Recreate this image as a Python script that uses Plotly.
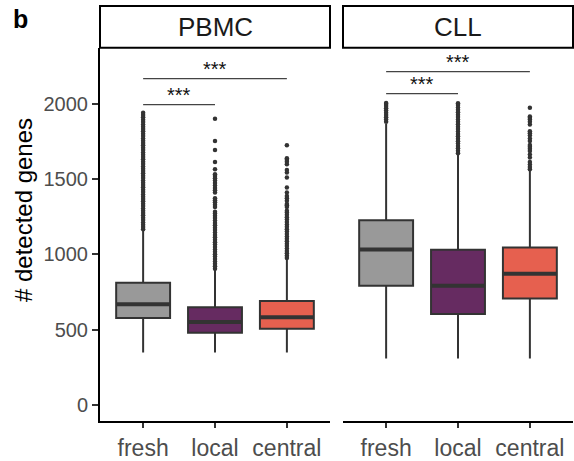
import plotly.graph_objects as go

# ---- data ---------------------------------------------------------------
categories = ["fresh", "local", "central"]
panels = ["PBMC", "CLL"]
fill_colors = ["#999999", "#662B61", "#E6604F"]

# box statistics per panel: [fresh, local, central]
pbmc_q1 = [578, 479, 505]
pbmc_median = [668, 551, 582]
pbmc_q3 = [811, 648, 690]
pbmc_lower = [348, 348, 348]
pbmc_upper = [1157, 900, 968]

cll_q1 = [792, 604, 706]
cll_median = [1032, 792, 871]
cll_q3 = [1226, 1030, 1045]
cll_lower = [309, 309, 309]
cll_upper = [1866, 1665, 1554]

# outlying cells (detected genes)
pbmc_fresh_out = [1166, 1181, 1197, 1212, 1228, 1243, 1259, 1274, 1290, 1305, 1321,
                  1336, 1352, 1367, 1383, 1398, 1414, 1429, 1445, 1460, 1476, 1491,
                  1507, 1522, 1538, 1553, 1569, 1584, 1600, 1615, 1631, 1646, 1662,
                  1677, 1693, 1708, 1724, 1739, 1755, 1770, 1786, 1801, 1817, 1832,
                  1848, 1863, 1879, 1894, 1910, 1925, 1940]
pbmc_local_out = [905, 921, 937, 953, 969, 985, 1001, 1017, 1033, 1049, 1065, 1081,
                  1097, 1113, 1129, 1145, 1161, 1177, 1193, 1209, 1225, 1241, 1257,
                  1272, 1283, 1314, 1330, 1346, 1360, 1373, 1411, 1425, 1440, 1458,
                  1474, 1490, 1505, 1520, 1532, 1565, 1614, 1693, 1753, 1900]
pbmc_central_out = [975, 991, 1007, 1023, 1039, 1055, 1071, 1087, 1103, 1119, 1135,
                    1151, 1167, 1183, 1199, 1215, 1231, 1247, 1263, 1278, 1290, 1314,
                    1326, 1334, 1356, 1372, 1387, 1411, 1444, 1510, 1543, 1560, 1599,
                    1615, 1628, 1638, 1724]
cll_fresh_out = [1880, 1895, 1910, 1925, 1940, 1955, 1970, 1985, 1998, 2006]
cll_local_out = [1672, 1688, 1704, 1720, 1736, 1752, 1768, 1784, 1800, 1816, 1832,
                 1848, 1864, 1880, 1896, 1912, 1928, 1944, 1960, 1976, 1992, 2004]
cll_central_out = [1566, 1580, 1596, 1614, 1643, 1664, 1687, 1702, 1714, 1727, 1753,
                   1770, 1790, 1804, 1817, 1863, 1880, 1896, 1908, 1916, 1973]

# significance brackets: (from category index, to category index, height)
pbmc_brackets = [(1, 2, 1995), (1, 3, 2167)]
cll_brackets = [(1, 2, 2068), (1, 3, 2214)]
sig_label = "***"

y_ticks = [0, 500, 1000, 1500, 2000]

# ---- figure -------------------------------------------------------------
FONT = "Liberation Sans, Arial, Helvetica, sans-serif"
LINE = "#333333"
BOX_W = 0.75

panel_stats = [
    (pbmc_q1, pbmc_median, pbmc_q3, pbmc_lower, pbmc_upper,
     [pbmc_fresh_out, pbmc_local_out, pbmc_central_out], pbmc_brackets),
    (cll_q1, cll_median, cll_q3, cll_lower, cll_upper,
     [cll_fresh_out, cll_local_out, cll_central_out], cll_brackets),
]

fig = go.Figure()
for p, (q1, med, q3, lo, hi, outs, brackets) in enumerate(panel_stats):
    xa = "x" if p == 0 else "x2"
    ya = "y" if p == 0 else "y2"
    for i, cat in enumerate(categories):
        pos = i + 1
        # outliers
        fig.add_trace(go.Scatter(
            x=[pos] * len(outs[i]), y=outs[i], mode="markers",
            marker=dict(size=4.5, color=LINE), xaxis=xa, yaxis=ya,
            showlegend=False, hoverinfo="y"))
        fig.add_trace(go.Box(
            x=[pos], q1=[q1[i]], median=[med[i]], q3=[q3[i]],
            lowerfence=[lo[i]], upperfence=[hi[i]],
            width=BOX_W, whiskerwidth=0, boxpoints=False,
            fillcolor=fill_colors[i], line=dict(color=LINE, width=2),
            name=cat, xaxis=xa, yaxis=ya, showlegend=False))
        # heavier median bar
        fig.add_trace(go.Scatter(
            x=[pos - BOX_W / 2, pos + BOX_W / 2], y=[med[i], med[i]],
            mode="lines", line=dict(color=LINE, width=4),
            xaxis=xa, yaxis=ya, showlegend=False, hoverinfo="skip"))
    for a, b, h in brackets:
        fig.add_trace(go.Scatter(
            x=[a, b], y=[h, h], mode="lines",
            line=dict(color="#444444", width=1.2),
            xaxis=xa, yaxis=ya, showlegend=False, hoverinfo="skip"))
        fig.add_annotation(
            x=(a + b) / 2, y=h, xref=xa, yref=ya, text=sig_label,
            showarrow=False, xanchor="center", yanchor="bottom", yshift=-3,
            font=dict(family=FONT, size=20, color="#111111"))

W, H = 574, 461
x1_dom = [100 / W, 330 / W]
x2_dom = [343 / W, 573 / W]
y_dom = [(H - 423) / H, (H - 48) / H]
y_range = [-108, 2372]
x_range = [0.4, 3.6]

xaxis_common = dict(
    range=x_range, tickmode="array", tickvals=[1, 2, 3], ticktext=categories,
    showline=True, linecolor="black", linewidth=2, ticks="outside",
    ticklen=5, tickwidth=1.5, tickcolor=LINE, showgrid=False, zeroline=False,
    tickfont=dict(family=FONT, size=23, color="#4D4D4D"), fixedrange=True)

fig.update_layout(
    width=W, height=H, margin=dict(l=0, r=0, t=0, b=0),
    paper_bgcolor="white", plot_bgcolor="white", showlegend=False,
    font=dict(family=FONT),
    xaxis=dict(domain=x1_dom, anchor="y", **xaxis_common),
    xaxis2=dict(domain=x2_dom, anchor="y2", **xaxis_common),
    yaxis=dict(domain=y_dom, range=y_range, anchor="x", tickmode="array",
               tickvals=y_ticks, showline=True, linecolor="black", linewidth=2,
               ticks="outside", ticklen=6, tickwidth=1.5, tickcolor=LINE,
               showgrid=False, zeroline=False,
               tickfont=dict(family=FONT, size=20, color="#4D4D4D")),
    yaxis2=dict(domain=y_dom, range=y_range, anchor="x2", showline=False,
                showticklabels=False, ticks="", showgrid=False, zeroline=False),
)

# facet strips
strip_top = (H - 6) / H
strip_bot = (H - 48) / H
for dom, label in zip([x1_dom, x2_dom], panels):
    fig.add_shape(type="rect", xref="paper", yref="paper",
                  x0=dom[0], x1=dom[1], y0=strip_bot, y1=strip_top,
                  line=dict(color="black", width=2), fillcolor="white")
    fig.add_annotation(x=(dom[0] + dom[1]) / 2, y=(strip_bot + strip_top) / 2,
                       xref="paper", yref="paper", text=label, showarrow=False,
                       xanchor="center", yanchor="middle",
                       font=dict(family=FONT, size=26, color="#1A1A1A"))

# y-axis title
fig.add_annotation(x=23 / W, y=(H - 211) / H, xref="paper", yref="paper",
                   text="# detected genes", textangle=-90, showarrow=False,
                   xanchor="center", yanchor="middle",
                   font=dict(family=FONT, size=24, color="black"))
# panel tag
fig.add_annotation(x=20 / W, y=(H - 19) / H, xref="paper", yref="paper",
                   text="<b>b</b>", showarrow=False,
                   xanchor="center", yanchor="middle",
                   font=dict(family=FONT, size=25, color="black"))

fig.write_html("out.html")
